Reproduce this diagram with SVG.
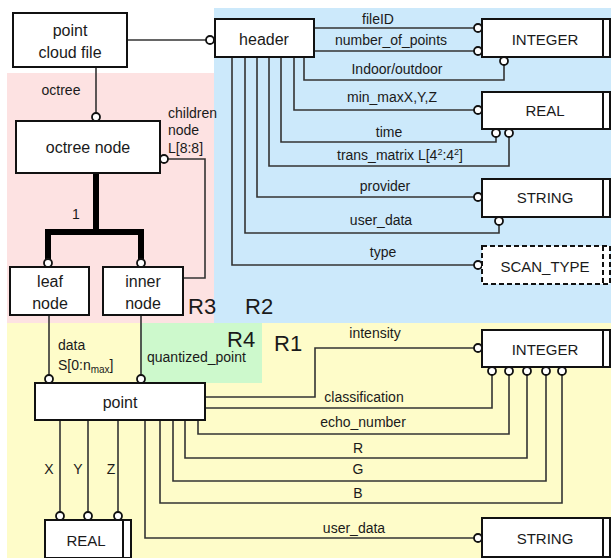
<svg xmlns="http://www.w3.org/2000/svg" width="611" height="558" viewBox="0 0 611 558">
<style>
.t{font-family:"Liberation Sans",Arial,sans-serif;fill:#1a1a1a}
.s{font-size:14px}
.b{font-size:16px}
.c{font-size:15px}
.r{font-size:22px}
.box{fill:#fff;stroke:#111;stroke-width:2}
.dash{fill:#fff;stroke:#111;stroke-width:2;stroke-dasharray:5 3}
.ln{fill:none;stroke:#333;stroke-width:1.6}
.thick{fill:none;stroke:#000;stroke-width:6}
.dot{fill:#fff;stroke:#111;stroke-width:1.8}
</style>
<g id="regions">
<rect x="214" y="8" width="397" height="315" fill="#cce9fb"/>
<rect x="7" y="73" width="207" height="250" fill="#fde2e2"/>
<rect x="7" y="323" width="604" height="235" fill="#fefcc9"/>
<rect x="140" y="323" width="122" height="60" fill="#cdf9cc"/>
<text class="t r" x="188" y="314">R3</text>
<text class="t r" x="245" y="314">R2</text>
<text class="t r" x="227" y="347">R4</text>
<text class="t r" x="274" y="351">R1</text>
</g>
<g id="connectors">
<path class="ln" d="M127 40H206"/>
<path class="ln" d="M314 28H474M314 51H474M304 57V80H504V65"/>
<path class="ln" d="M294 57V110H474M281 57V142H496V137M269 57V166H509V137M257 57V197H474M245 57V233H499V225M232 57V265H474"/>
<path class="ln" d="M96 67V117"/>
<path class="ln" d="M168 159H205V278H183"/>
<path class="thick" d="M96 173V232M48 259V232H141V259"/>
<path class="ln" d="M49 315V375M141 315V375"/>
<path class="ln" d="M205 397H315V348H474M205 408H492V375"/>
<path class="ln" d="M198 420V434H509V375M185 420V458H527V375M173 420V481H546V375M160 420V503H562V375M145 420V538H474"/>
<path class="ln" d="M60 420V512M88 420V512M118 420V512"/>
<circle class="dot" cx="210" cy="40" r="4"/>
<circle class="dot" cx="478" cy="28" r="4"/>
<circle class="dot" cx="478" cy="51" r="4"/>
<circle class="dot" cx="504" cy="61" r="4"/>
<circle class="dot" cx="478" cy="110" r="4"/>
<circle class="dot" cx="496" cy="133" r="4"/>
<circle class="dot" cx="509" cy="133" r="4"/>
<circle class="dot" cx="478" cy="197" r="4"/>
<circle class="dot" cx="499" cy="221" r="4"/>
<circle class="dot" cx="478" cy="265" r="4"/>
<circle class="dot" cx="96" cy="117" r="4"/>
<circle class="dot" cx="164" cy="159" r="4"/>
<circle class="dot" cx="48" cy="263" r="4"/>
<circle class="dot" cx="141" cy="263" r="4"/>
<circle class="dot" cx="49" cy="379" r="4"/>
<circle class="dot" cx="141" cy="379" r="4"/>
<circle class="dot" cx="478" cy="348" r="4"/>
<circle class="dot" cx="492" cy="371" r="4"/>
<circle class="dot" cx="509" cy="371" r="4"/>
<circle class="dot" cx="527" cy="371" r="4"/>
<circle class="dot" cx="546" cy="371" r="4"/>
<circle class="dot" cx="562" cy="371" r="4"/>
<circle class="dot" cx="478" cy="538" r="4"/>
<circle class="dot" cx="60" cy="516" r="4"/>
<circle class="dot" cx="88" cy="516" r="4"/>
<circle class="dot" cx="118" cy="516" r="4"/>
<text class="t s" x="378" y="24" text-anchor="middle">fileID</text>
<text class="t s" x="391" y="45" text-anchor="middle">number_of_points</text>
<text class="t s" x="397" y="74" text-anchor="middle">Indoor/outdoor</text>
<text class="t s" x="392" y="102" text-anchor="middle">min_maxX,Y,Z</text>
<text class="t s" x="389" y="137" text-anchor="middle">time</text>
<text class="t s" x="400" y="160" text-anchor="middle">trans_matrix L[4<tspan font-size="9" dy="-5">2</tspan><tspan dy="5">:4</tspan><tspan font-size="9" dy="-5">2</tspan><tspan dy="5">]</tspan></text>
<text class="t s" x="385" y="191" text-anchor="middle">provider</text>
<text class="t s" x="381" y="225" text-anchor="middle">user_data</text>
<text class="t s" x="383" y="257" text-anchor="middle">type</text>
<text class="t s" x="61" y="95" text-anchor="middle">octree</text>
<text class="t s" x="168" y="118">children</text>
<text class="t s" x="168" y="135">node</text>
<text class="t s" x="168" y="153">L[8:8]</text>
<text class="t s" x="76" y="219" text-anchor="middle">1</text>
<text class="t s" x="58" y="350">data</text>
<text class="t s" x="58" y="370">S[0:n<tspan font-size="10" dy="3">max</tspan><tspan dy="-3">]</tspan></text>
<text class="t s" x="147" y="362">quantized_point</text>
<text class="t s" x="375" y="338" text-anchor="middle">intensity</text>
<text class="t s" x="364" y="402" text-anchor="middle">classification</text>
<text class="t s" x="363" y="427" text-anchor="middle">echo_number</text>
<text class="t s" x="358" y="453" text-anchor="middle">R</text>
<text class="t s" x="358" y="474" text-anchor="middle">G</text>
<text class="t s" x="358" y="498" text-anchor="middle">B</text>
<text class="t s" x="354" y="533" text-anchor="middle">user_data</text>
<text class="t s" x="49" y="474" text-anchor="middle">X</text>
<text class="t s" x="78" y="474" text-anchor="middle">Y</text>
<text class="t s" x="111" y="474" text-anchor="middle">Z</text>
</g>
<g id="point_cloud_file">
<rect class="box" x="13" y="13" width="114" height="54"/>
<text class="t b" x="70" y="36" text-anchor="middle">point</text>
<text class="t b" x="70" y="58" text-anchor="middle">cloud file</text>
</g>
<g id="header">
<rect class="box" x="215" y="19" width="99" height="38"/>
<text class="t b" x="264" y="45" text-anchor="middle">header</text>
</g>
<g id="integer_top">
<rect class="box" x="482" y="19" width="128" height="38"/>
<line x1="603" y1="19" x2="603" y2="57" stroke="#111" stroke-width="2"/>
<text class="t c" x="545" y="45" text-anchor="middle">INTEGER</text>
</g>
<g id="real_top">
<rect class="box" x="482" y="92" width="128" height="37"/>
<line x1="603" y1="92" x2="603" y2="129" stroke="#111" stroke-width="2"/>
<text class="t c" x="545" y="116" text-anchor="middle">REAL</text>
</g>
<g id="string_top">
<rect class="box" x="482" y="179" width="128" height="38"/>
<line x1="603" y1="179" x2="603" y2="217" stroke="#111" stroke-width="2"/>
<text class="t c" x="545" y="203" text-anchor="middle">STRING</text>
</g>
<g id="scan_type">
<rect class="dash" x="482" y="246" width="128" height="38"/>
<line x1="603" y1="246" x2="603" y2="284" stroke="#111" stroke-width="2" stroke-dasharray="5 3"/>
<text class="t c" x="545" y="272" text-anchor="middle">SCAN_TYPE</text>
</g>
<g id="octree_node">
<rect class="box" x="16" y="121" width="144" height="52"/>
<text class="t b" x="88" y="153" text-anchor="middle">octree node</text>
</g>
<g id="leaf_node">
<rect class="box" x="10" y="267" width="79" height="48"/>
<text class="t b" x="50" y="287" text-anchor="middle">leaf</text>
<text class="t b" x="50" y="309" text-anchor="middle">node</text>
</g>
<g id="inner_node">
<rect class="box" x="103" y="267" width="80" height="48"/>
<text class="t b" x="143" y="287" text-anchor="middle">inner</text>
<text class="t b" x="143" y="309" text-anchor="middle">node</text>
</g>
<g id="point">
<rect class="box" x="35" y="383" width="170" height="37"/>
<text class="t b" x="120" y="408" text-anchor="middle">point</text>
</g>
<g id="integer_bottom">
<rect class="box" x="482" y="330" width="128" height="37"/>
<line x1="603" y1="330" x2="603" y2="367" stroke="#111" stroke-width="2"/>
<text class="t c" x="545" y="355" text-anchor="middle">INTEGER</text>
</g>
<g id="string_bottom">
<rect class="box" x="482" y="518" width="128" height="39"/>
<line x1="603" y1="518" x2="603" y2="557" stroke="#111" stroke-width="2"/>
<text class="t c" x="545" y="544" text-anchor="middle">STRING</text>
</g>
<g id="real_bottom">
<rect class="box" x="45" y="520" width="86" height="38"/>
<line x1="123" y1="520" x2="123" y2="558" stroke="#111" stroke-width="2"/>
<text class="t c" x="86" y="546" text-anchor="middle">REAL</text>
</g>
</svg>
